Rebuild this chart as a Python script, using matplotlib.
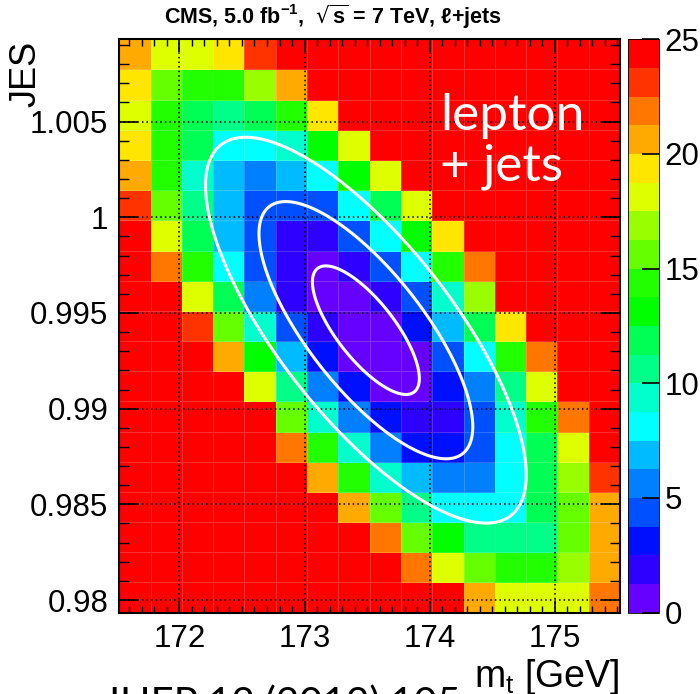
import numpy as np
import matplotlib
matplotlib.use('Agg')
import matplotlib.pyplot as plt
from matplotlib.colors import ListedColormap, BoundaryNorm
from matplotlib.ticker import MultipleLocator, FuncFormatter

R = 30.0  # saturated bins (red), above the top of the palette

# -2 delta lnL per bin. first row = highest JES
chi2_rows = [
    [20.6, 18.1, 18.1, 19.4, 23.1, R, R, R, R, R, R, R, R, R, R, R],
    [19.4, 15.6, 14.4, 14.4, 16.9, 20.6, R, R, R, R, R, R, R, R, R, R],
    [18.1, 14.4, 11.9, 10.6, 11.9, 14.4, 19.4, R, R, R, R, R, R, R, R, R],
    [19.4, 14.4, 11.9, 8.1, 8.1, 9.4, 13.1, 18.1, R, R, R, R, R, R, R, R],
    [20.6, 14.4, 9.4, 6.9, 5.6, 6.9, 8.1, 13.1, 18.1, R, R, R, R, R, R, R],
    [23.1, 15.6, 10.6, 6.9, 4.4, 4.4, 4.4, 8.1, 11.9, 18.1, R, R, R, R, R, R],
    [R, 18.1, 11.9, 6.9, 4.4, 1.9, 1.9, 4.4, 8.1, 13.1, 19.4, R, R, R, R, R],
    [R, 21.9, 14.4, 8.1, 4.4, 1.9, 0.6, 1.9, 4.4, 8.1, 14.4, 21.9, R, R, R, R],
    [R, R, 18.1, 11.9, 5.6, 1.9, 0.6, 0.6, 1.9, 4.4, 9.4, 16.9, R, R, R, R],
    [R, R, 23.1, 15.6, 9.4, 4.4, 1.9, 0.6, 0.6, 3.1, 6.9, 11.9, 19.4, R, R, R],
    [R, R, R, 20.6, 13.1, 6.9, 3.1, 0.6, 0.6, 0.6, 4.4, 8.1, 14.4, 21.9, R, R],
    [R, R, R, R, 18.1, 10.6, 5.6, 3.1, 0.6, 0.6, 3.1, 5.6, 10.6, 18.1, R, R],
    [R, R, R, R, R, 15.6, 9.4, 5.6, 3.1, 1.9, 1.9, 4.4, 9.4, 14.4, 21.9, R],
    [R, R, R, R, R, 21.9, 14.4, 9.4, 5.6, 3.1, 3.1, 4.4, 8.1, 11.9, 18.1, R],
    [R, R, R, R, R, R, 20.6, 14.4, 9.4, 6.9, 5.6, 5.6, 8.1, 11.9, 16.9, 23.1],
    [R, R, R, R, R, R, R, 20.6, 15.6, 10.6, 8.1, 8.1, 8.1, 11.9, 15.6, 20.6],
    [R, R, R, R, R, R, R, R, 21.9, 15.6, 13.1, 10.6, 10.6, 10.6, 15.6, 20.6],
    [R, R, R, R, R, R, R, R, R, 21.9, 18.1, 15.6, 14.4, 14.4, 16.9, 20.6],
    [R, R, R, R, R, R, R, R, R, R, R, 20.6, 18.1, 18.1, 18.1, 21.9],
]

# histogram range
mt_lo, mt_hi = 171.52, 175.52
jes_lo, jes_hi = 0.97934, 1.00930

# 2D fit result -> 1, 2, 3 sigma contours
mt_fit = 173.49
jes_fit = 0.9941
sig_mt = 0.427
sig_jes = 0.00336
rho = -0.75
contour_levels = [1, 4, 9]

# ROOT style rainbow palette, 20 steps between 0 and 25
palette = ['#6600FF', '#2D00FF', '#0010FF', '#0050FF', '#0080FF',
           '#00BBFF', '#00FFFF', '#00FFCC', '#00FF88', '#00FF55',
           '#00FF00', '#22FF00', '#66FF00', '#99FF00', '#DDFF00',
           '#FFE600', '#FFAA00', '#FF7700', '#FF3300', '#FF0000']
z_max = 25
cbar_ticks = [0, 5, 10, 15, 20, 25]

plt.rcParams['font.family'] = ['Liberation Sans', 'DejaVu Sans']
plt.rcParams['mathtext.default'] = 'regular'

fig = plt.figure(figsize=(7, 6.94), dpi=100)
ax = fig.add_axes([0.1704, 0.1172, 0.7153, 0.8262])
cax = fig.add_axes([0.897, 0.1172, 0.044, 0.8262])

cmap = ListedColormap(palette)
cmap.set_over(palette[-1])
norm = BoundaryNorm(np.linspace(0, z_max, len(palette) + 1), cmap.N)

z = np.flipud(np.array(chi2_rows))
mt_edges = np.linspace(mt_lo, mt_hi, z.shape[1] + 1)
jes_edges = np.linspace(jes_lo, jes_hi, z.shape[0] + 1)
mesh = ax.pcolormesh(mt_edges, jes_edges, z, cmap=cmap, norm=norm,
                     edgecolors=(1, 1, 1, 0.18), linewidth=0.6)

# smooth contours from the fitted gaussian
X, Y = np.meshgrid(np.linspace(mt_lo, mt_hi, 400), np.linspace(jes_lo, jes_hi, 400))
dx = (X - mt_fit) / sig_mt
dy = (Y - jes_fit) / sig_jes
q = (dx**2 - 2 * rho * dx * dy + dy**2) / (1 - rho**2)
ax.contour(X, Y, q, levels=contour_levels, colors='white', linewidths=2.2, zorder=4)

ax.set_xlim(mt_lo, mt_hi)
ax.set_ylim(jes_lo, jes_hi)
ax.grid(True, which='major', color='black', linestyle=(0, (1, 2)), linewidth=1.1, zorder=3)
ax.set_axisbelow(False)

ax.xaxis.set_major_locator(MultipleLocator(1))
ax.xaxis.set_minor_locator(MultipleLocator(0.1))
ax.yaxis.set_major_locator(MultipleLocator(0.005))
ax.yaxis.set_minor_locator(MultipleLocator(0.001))
ax.yaxis.set_major_formatter(FuncFormatter(lambda v, p: '%g' % round(v, 4)))

ax.tick_params(which='both', direction='in', top=True, right=True, labelsize=22.5)
ax.tick_params(axis='x', which='major', length=9, width=1.2, pad=8)
ax.tick_params(axis='x', which='minor', length=5, width=1)
ax.tick_params(axis='y', which='major', length=14, width=1.2, pad=8)
ax.tick_params(axis='y', which='minor', length=7, width=1)
for s in ax.spines.values():
    s.set_linewidth(1.5)

ax.set_xlabel('m$_{t}$ [GeV]', loc='right', fontsize=27, labelpad=2)
# y title sits at the top left, ROOT style
fig.text(8 / 700, 1 - 41 / 694, 'JES', rotation=90, ha='left', va='top', fontsize=26)

ax.text(0.641, 0.906, 'lepton\n+ jets', transform=ax.transAxes, color='white',
        fontsize=37, linespacing=1.12, family=['Lato', 'DejaVu Sans'],
        ha='left', va='top', zorder=5)

cb = fig.colorbar(mesh, cax=cax, ticks=cbar_ticks, extend='neither')
cb.minorticks_off()
cb.outline.set_linewidth(0.6)
cax.tick_params(direction='in', length=12, width=1.2, labelsize=22.5, pad=4)

fig.text(0.475, 0.975, 'CMS, 5.0 fb$^{-1}$,  $\\sqrt{s}$ = 7 TeV, \u2113+jets',
         ha='center', va='center', fontsize=15.5, fontweight='bold',
         family=['Liberation Sans Narrow', 'Liberation Sans', 'DejaVu Sans'])

# reference line of the slide, cut off by the bottom edge
fig.text(0.147, 0.012, 'JHEP 12 (2012) 105', fontsize=29, va='top',
         family=['Lato', 'DejaVu Sans'])

fig.savefig('out.png', dpi=100)
